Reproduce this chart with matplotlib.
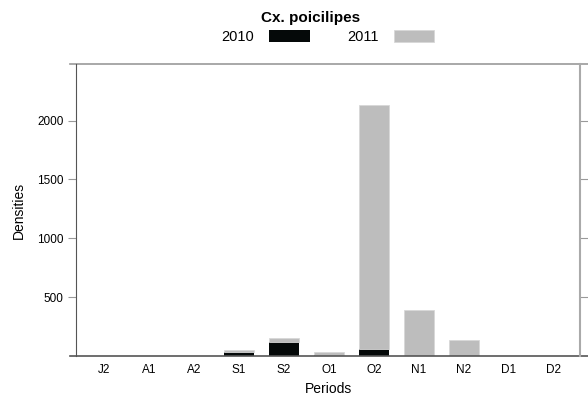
import matplotlib
matplotlib.use('Agg')
import matplotlib.pyplot as plt
from matplotlib.lines import Line2D
import numpy as np

plt.rcParams['font.family'] = ['Liberation Sans', 'DejaVu Sans']

periods = ['J2', 'A1', 'A2', 'S1', 'S2', 'O1', 'O2', 'N1', 'N2', 'D1', 'D2']
d2010 = [0, 0, 0, 37, 119, 12, 60, 0, 0, 0, 0]
d2011 = [0, 0, 0, 14, 34, 25, 2075, 392, 134, 0, 0]

x = np.arange(len(periods))

fig = plt.figure(figsize=(5.88, 4.03), dpi=100)
ax = fig.add_axes([76/588, 1 - 356/403, (580-76)/588, (356-64)/403])

ax.bar(x, d2010, width=0.66, color='#050909', label='2010')
ax.bar(x, d2011, width=0.66, bottom=d2010, color='#bdbdbd', edgecolor='#d8d8d8',
       linewidth=0.6, label='2011')

ax.set_xlim(-0.62, 10.58)
ax.set_ylim(0, 2480)
ax.set_xticks(x)
ax.set_xticklabels(periods, fontsize=8.5)
ax.set_yticks([500, 1000, 1500, 2000])
ax.tick_params(axis='x', length=0, pad=6)
ax.tick_params(axis='y', labelsize=8.5, length=6, width=0.8, color='#999999', pad=3,
               right=True, direction='out')
ax.set_xlabel('Periods', fontsize=10, labelpad=4)
ax.set_ylabel('Densities', fontsize=10, labelpad=8)

ax.spines['left'].set_color('#555555')
ax.spines['right'].set_color('#aaaaaa')
ax.spines['right'].set_linewidth(1.5)
ax.spines['top'].set_visible(False)
ax.spines['bottom'].set_visible(False)
# top and bottom lines run past the spines
ax.add_line(Line2D([-0.012, 1.02], [1, 1], transform=ax.transAxes, color='#999999',
                   linewidth=1.2, clip_on=False))
ax.add_line(Line2D([-0.012, 1.02], [0, 0], transform=ax.transAxes, color='#555555',
                   linewidth=1.2, clip_on=False))

fig.text(311/588, 1 - 18/403, 'Cx. poicilipes', ha='center', va='center',
         fontsize=11, fontweight='bold')
ax.legend(loc='center', bbox_to_anchor=(328/588, 1 - 37/403), bbox_transform=fig.transFigure,
          ncol=2, frameon=False, markerfirst=False, handlelength=2.8, handleheight=0.9,
          columnspacing=2.6, handletextpad=1.0, fontsize=10.5, borderpad=0)

fig.savefig('out.png', dpi=100)
